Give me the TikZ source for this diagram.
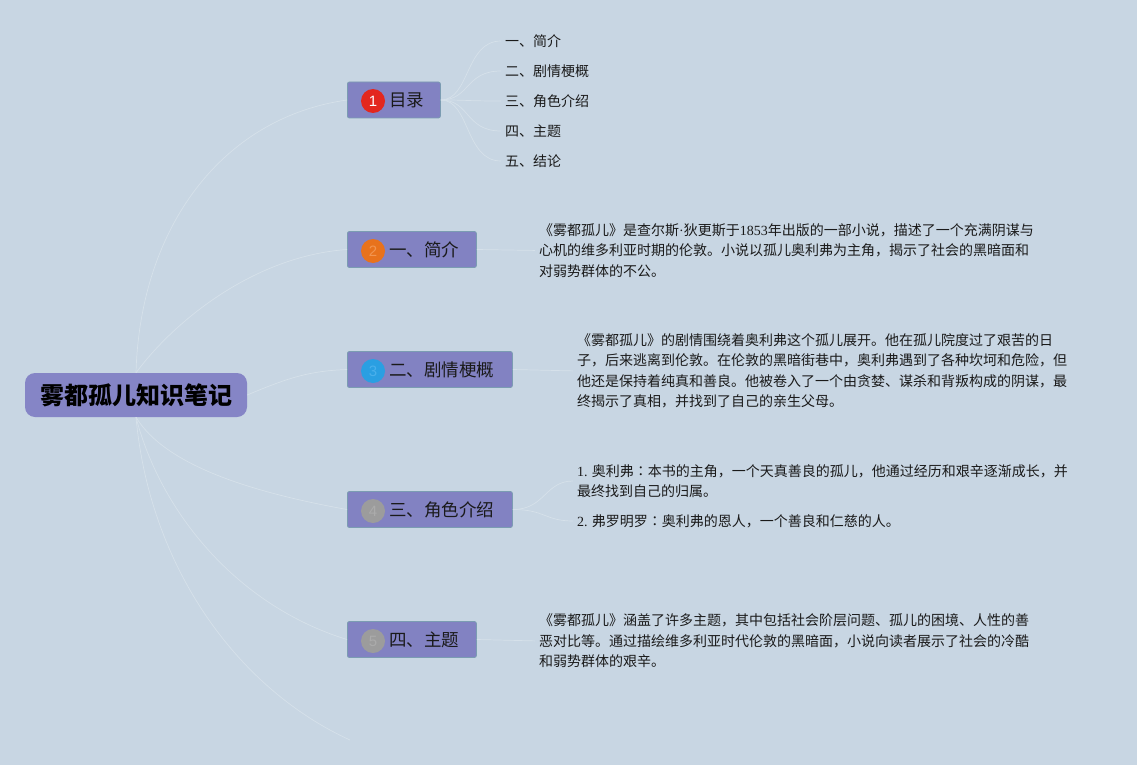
\documentclass[tikz,border=0pt]{standalone}
\usepackage{fontspec}
\setmainfont{Liberation Serif}
\newfontfamily\cjk{Noto Sans CJK SC}
\newfontfamily\cjktc{Noto Sans CJK TC}
\newfontfamily\lat{Liberation Serif}
\newfontfamily\numfont{Liberation Sans}
\definecolor{bgc}{HTML}{C8D6E3}
\definecolor{boxfill}{HTML}{8282C2}
\definecolor{boxline}{HTML}{7B9CB2}
\definecolor{rootfill}{HTML}{8585C6}
\definecolor{linkc}{HTML}{D6E1EA}
\definecolor{txt}{HTML}{1A1A1A}
\definecolor{cred}{HTML}{E3271E}
\definecolor{corange}{HTML}{E8721C}
\definecolor{corangeT}{HTML}{F29550}
\definecolor{cblue}{HTML}{2A9FE2}
\definecolor{cblueT}{HTML}{4AB0EC}
\definecolor{cgray}{HTML}{9C9C9C}
\definecolor{cgrayT}{HTML}{ABABAB}
\newcommand\tccolon{{\cjktc ：}}
\begin{document}
\begin{tikzpicture}[x=1pt,y=-1pt,
  branch/.style={draw=boxline, fill=boxfill, rounded corners=2pt, line width=0.8pt, minimum height=36pt, anchor=west, inner sep=0pt},
  rootbox/.style={fill=rootfill, rounded corners=10pt, minimum width=222pt, minimum height=44pt, inner sep=0pt, text=black, font=\cjk\bfseries\fontsize{24}{28}\selectfont},
  num/.style={circle, inner sep=0pt, minimum size=24pt, font=\numfont\fontsize{15}{15}\selectfont},
  lbl/.style={anchor=west, inner sep=0pt, text=txt, font=\cjk\fontsize{17.5}{20}\selectfont},
  leaf/.style={anchor=west, inner sep=0pt, align=left, text=txt, font=\cjk\fontsize{14}{20.5}\selectfont},
  link/.style={draw=linkc, line width=0.7pt}
]
\fill[bgc] (0,0) rectangle (1137,765);
\useasboundingbox (0,0) rectangle (1137,765);

% root
\node[rootbox] (root) at (136,395) {雾都孤儿知识笔记};

% branches
\node[branch, minimum width=93pt] (b0) at (347,100) {};
\node[branch, minimum width=129pt] (b1) at (347,249.5) {};
\node[branch, minimum width=165pt] (b2) at (347,369.5) {};
\node[branch, minimum width=165pt] (b3) at (347,509.5) {};
\node[branch, minimum width=129pt] (b4) at (347,639.5) {};

\node[num, fill=cred, text=white] (n0) at (373,101) {1};
\node[num, fill=corange, text=corangeT] (n1) at (373,251) {2};
\node[num, fill=cblue, text=cblueT] (n2) at (373,371) {3};
\node[num, fill=cgray, text=cgrayT] (n3) at (373,511) {4};
\node[num, fill=cgray, text=cgrayT] (n4) at (373,641) {5};

\node[lbl] (l0) at (389,100) {目录};
\node[lbl] (l1) at (389,250) {一、简介};
\node[lbl] (l2) at (389,370) {二、剧情梗概};
\node[lbl] (l3) at (389,510) {三、角色介绍};
\node[lbl] (l4) at (389,640) {四、主题};

% root connectors
\coordinate (tail) at (350,740);
\draw[link] (root.north) .. controls (140,230) and (220,118) .. (b0.west);
\draw[link] (root.north) .. controls (175,320) and (255,256) .. (b1.west);
\draw[link] (root.east) .. controls (290,377) and (310,371) .. (b2.west);
\draw[link] (root.south) .. controls (165,465) and (250,492) .. (b3.west);
\draw[link] (root.south) .. controls (160,510) and (235,605) .. (b4.west);
\draw[link] (root.south) .. controls (150,570) and (240,690) .. (tail);

% TOC items
\node[leaf] (t1) at (505,41) {一、简介};
\node[leaf] (t2) at (505,71) {二、剧情梗概};
\node[leaf] (t3) at (505,101) {三、角色介绍};
\node[leaf] (t4) at (505,131) {四、主题};
\node[leaf] (t5) at (505,161) {五、结论};
\foreach \t in {t1,t2,t3,t4,t5}
  \draw[link, shorten >=4pt] (b0.east) .. controls (470,100) and (465,0|-\t.west) .. (\t.west);

% detail texts
\node[leaf] (d1) at (539,250.5) {《雾都孤儿》是查尔斯{\lat ·}狄更斯于{\lat 1853}年出版的一部小说，描述了一个充满阴谋与\\心机的维多利亚时期的伦敦。小说以孤儿奥利弗为主角，揭示了社会的黑暗面和\\对弱势群体的不公。};
\node[leaf] (d2) at (577,371) {《雾都孤儿》的剧情围绕着奥利弗这个孤儿展开。他在孤儿院度过了艰苦的日\\子，后来逃离到伦敦。在伦敦的黑暗街巷中，奥利弗遇到了各种坎坷和危险，但\\他还是保持着纯真和善良。他被卷入了一个由贪婪、谋杀和背叛构成的阴谋，最\\终揭示了真相，并找到了自己的亲生父母。};
\node[leaf] (c1) at (577,481) {{\lat 1.} 奥利弗\tccolon 本书的主角，一个天真善良的孤儿，他通过经历和艰辛逐渐成长，并\\最终找到自己的归属。};
\node[leaf] (c2) at (577,521) {{\lat 2.} 弗罗明罗\tccolon 奥利弗的恩人，一个善良和仁慈的人。};
\node[leaf] (d4) at (539,641) {《雾都孤儿》涵盖了许多主题，其中包括社会阶层问题、孤儿的困境、人性的善\\恶对比等。通过描绘维多利亚时代伦敦的黑暗面，小说向读者展示了社会的冷酷\\和弱势群体的艰辛。};

\draw[link, shorten >=4pt] (b1.east) -- (d1.west);
\draw[link, shorten >=4pt] (b2.east) -- (d2.west);
\draw[link, shorten >=4pt] (b3.east) .. controls (545,509.5) and (545,481) .. (c1.west);
\draw[link, shorten >=4pt] (b3.east) .. controls (545,509.5) and (545,521) .. (c2.west);
\draw[link, shorten >=4pt] (b4.east) -- (d4.west);
\end{tikzpicture}
\end{document}
